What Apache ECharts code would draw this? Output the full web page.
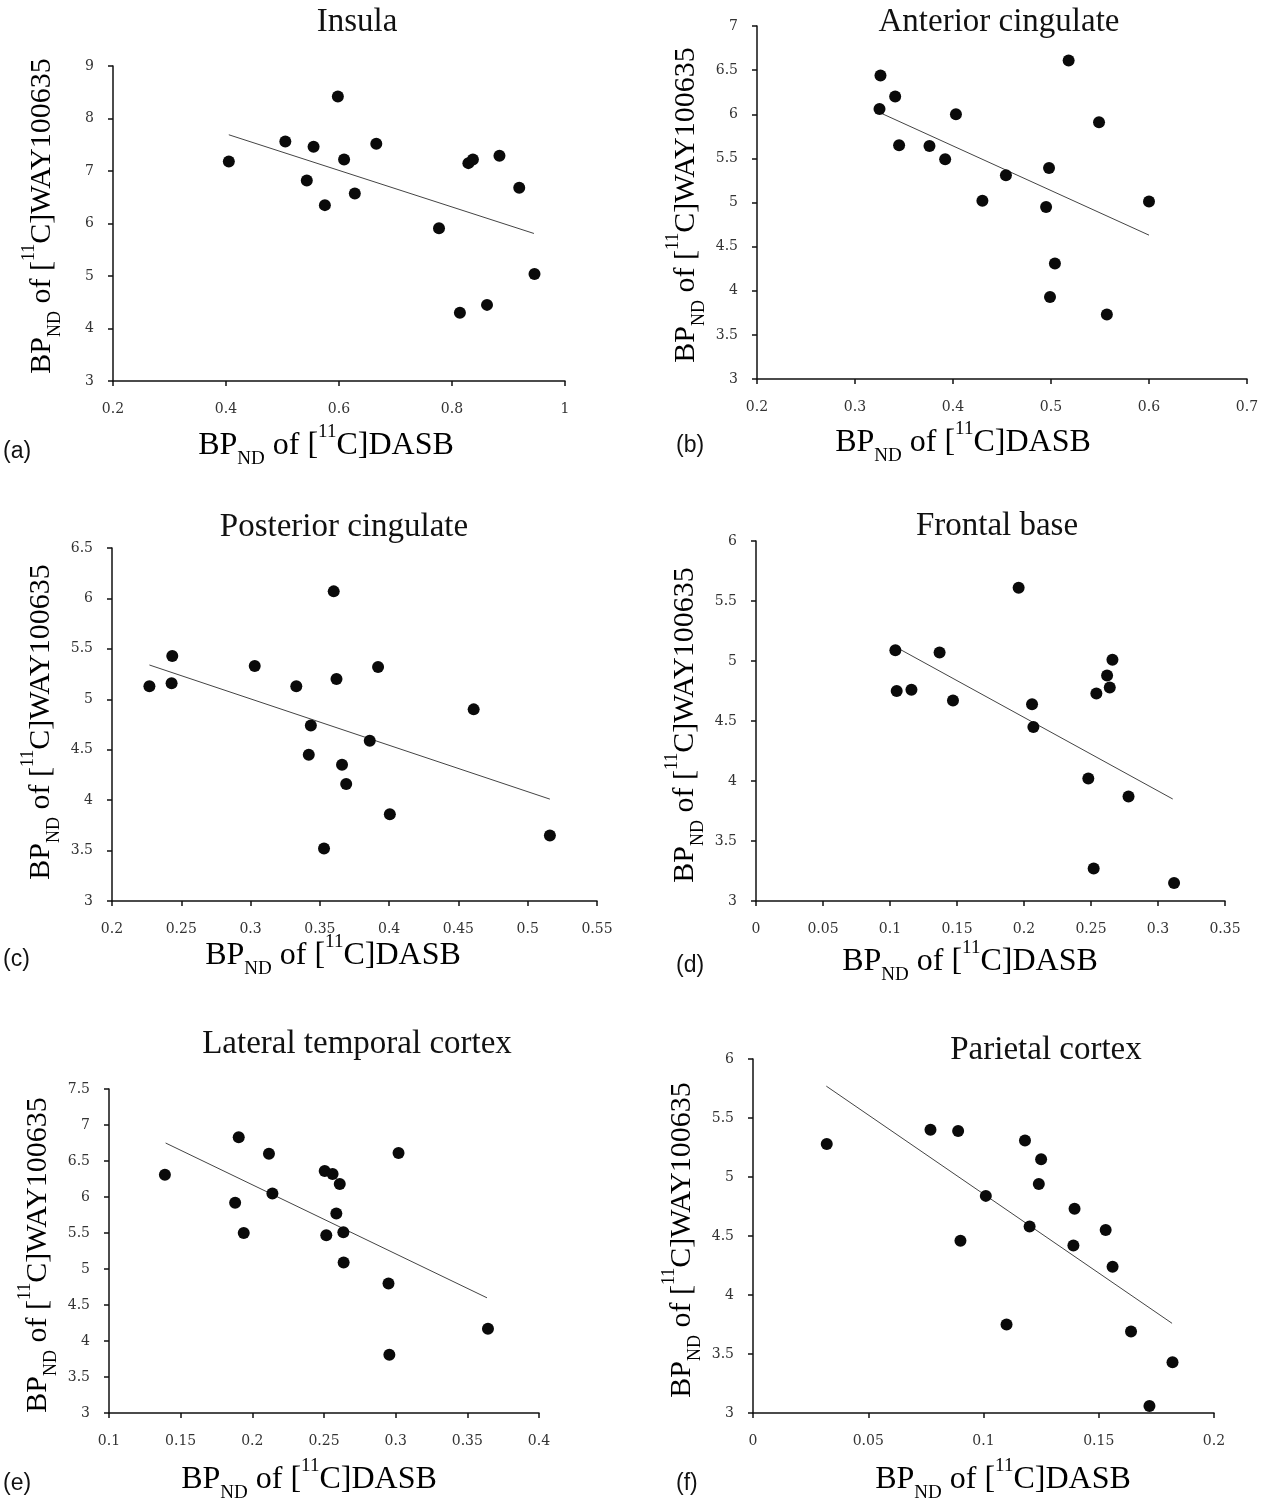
<!DOCTYPE html>
<html>
<head>
<meta charset="utf-8">
<script src="https://cdn.jsdelivr.net/npm/echarts@6/dist/echarts.min.js"></script>
<style>
  html, body { margin: 0; background: #fff; }
  #chart { width: 1271px; height: 1505px; }
</style>
</head>
<body>
<div id="chart"></div>
<script>
// region titles and panel letters
const titles = ['Insula', 'Anterior cingulate', 'Posterior cingulate', 'Frontal base', 'Lateral temporal cortex', 'Parietal cortex'];
const letters = ['(a)', '(b)', '(c)', '(d)', '(e)', '(f)'];

// BPND of [11C]DASB (x) vs BPND of [11C]WAY100635 (y)
const insulaX = [0.405, 0.505, 0.555, 0.543, 0.575, 0.598, 0.609, 0.628, 0.666, 0.777, 0.814, 0.829, 0.837, 0.862, 0.884, 0.919, 0.946];
const insulaY = [7.18, 7.56, 7.46, 6.82, 6.35, 8.42, 7.22, 6.57, 7.52, 5.91, 4.30, 7.15, 7.22, 4.45, 7.29, 6.68, 5.04];

const antCingX = [0.326, 0.325, 0.341, 0.345, 0.376, 0.392, 0.403, 0.430, 0.454, 0.498, 0.495, 0.504, 0.499, 0.518, 0.549, 0.557, 0.600];
const antCingY = [6.44, 6.06, 6.20, 5.65, 5.64, 5.49, 6.00, 5.02, 5.31, 5.39, 4.95, 4.31, 3.93, 6.61, 5.91, 3.73, 5.01];

const postCingX = [0.227, 0.2435, 0.243, 0.303, 0.333, 0.3435, 0.342, 0.360, 0.362, 0.353, 0.366, 0.369, 0.386, 0.392, 0.4005, 0.461, 0.516];
const postCingY = [5.13, 5.43, 5.16, 5.33, 5.13, 4.74, 4.45, 6.07, 5.20, 3.52, 4.35, 4.16, 4.59, 5.32, 3.86, 4.90, 3.65];

const frontalX = [0.104, 0.105, 0.116, 0.137, 0.147, 0.196, 0.206, 0.207, 0.248, 0.252, 0.254, 0.262, 0.264, 0.266, 0.278, 0.312];
const frontalY = [5.09, 4.75, 4.76, 5.07, 4.67, 5.61, 4.64, 4.45, 4.02, 3.27, 4.73, 4.88, 4.78, 5.01, 3.87, 3.15];

const latTempX = [0.139, 0.1905, 0.188, 0.194, 0.2116, 0.214, 0.2505, 0.256, 0.261, 0.2586, 0.2516, 0.2635, 0.2637, 0.295, 0.2956, 0.302, 0.3644];
const latTempY = [6.31, 6.83, 5.92, 5.50, 6.60, 6.05, 6.36, 6.32, 6.18, 5.77, 5.47, 5.51, 5.09, 4.80, 3.81, 6.61, 4.17];

const parietalX = [0.032, 0.077, 0.089, 0.090, 0.101, 0.110, 0.118, 0.125, 0.124, 0.120, 0.1395, 0.139, 0.153, 0.156, 0.164, 0.172, 0.182];
const parietalY = [5.28, 5.40, 5.39, 4.46, 4.84, 3.75, 5.31, 5.15, 4.94, 4.58, 4.73, 4.42, 4.55, 4.24, 3.69, 3.06, 3.43];

// trend line end points as drawn in each panel: [x0, y0, x1, y1]
const trendLines = [
  [0.405, 7.69, 0.945, 5.81],
  [0.325, 6.02, 0.600, 4.63],
  [0.227, 5.34, 0.516, 4.01],
  [0.107, 5.10, 0.311, 3.85],
  [0.1395, 6.75, 0.3637, 4.60],
  [0.0318, 5.77, 0.1818, 3.76]
];

// axis ranges: [min, max, interval]
const xRanges = [[0.2, 1, 0.2], [0.2, 0.7, 0.1], [0.2, 0.55, 0.05], [0, 0.35, 0.05], [0.1, 0.4, 0.05], [0, 0.2, 0.05]];
const yRanges = [[3, 9, 1], [3, 7, 0.5], [3, 6.5, 0.5], [3, 6, 0.5], [3, 7.5, 0.5], [3, 6, 0.5]];

const xSets = [insulaX, antCingX, postCingX, frontalX, latTempX, parietalX];
const ySets = [insulaY, antCingY, postCingY, frontalY, latTempY, parietalY];

// layout in px: grid box, title centre, x-name centre, y-name centre, letter pos
const grids = [
  { left: 113, top: 66, width: 452, height: 315 },
  { left: 757, top: 26, width: 490, height: 353 },
  { left: 112, top: 548, width: 485, height: 353 },
  { left: 756, top: 541, width: 469, height: 360 },
  { left: 109, top: 1089, width: 430, height: 324 },
  { left: 753, top: 1059, width: 461, height: 354 }
];
const titlePos = [[357, 22], [999, 22], [344, 527], [997, 526], [357, 1044], [1046, 1050]];
const xNamePos = [[326, 446], [963, 443], [333, 956], [970, 962], [309, 1480], [1003, 1480]];
const yNamePos = [[42, 216], [686, 205], [41, 722], [685, 725], [38, 1255], [682, 1240]];
const letterPos = [[3, 452], [676, 446], [3, 960], [676, 966], [3, 1484], [676, 1484]];

const SERIF = '"Liberation Serif", "Times New Roman", serif';

const axisLineStyle = { color: '#111', width: 1.5 };
const labelStyle = { fontFamily: '"DejaVu Serif", serif', fontSize: 14, color: '#333' };

function richFor(size) {
  const sub = Math.round(size * 0.6);
  return {
    m: { fontFamily: SERIF, fontSize: size, color: '#111', lineHeight: size + 14, verticalAlign: 'middle' },
    s: { fontFamily: SERIF, fontSize: sub, color: '#111', lineHeight: sub, verticalAlign: 'bottom' },
    p: { fontFamily: SERIF, fontSize: sub, color: '#111', lineHeight: sub + 8, verticalAlign: 'top' }
  };
}
const xNameText = '{m|BP}{s|ND}{m| of [}{p|11}{m|C]DASB}';
const yNameText = '{m|BP}{s|ND}{m| of [}{p|11}{m|C]WAY100635}';

const xAxes = [], yAxes = [], series = [], graphics = [];
grids.forEach((g, i) => {
  xAxes.push({
    type: 'value', gridIndex: i,
    min: xRanges[i][0], max: xRanges[i][1], interval: xRanges[i][2],
    axisLine: { onZero: false, lineStyle: axisLineStyle },
    axisTick: { inside: false, length: 5, lineStyle: axisLineStyle },
    axisLabel: Object.assign({ margin: 21 }, labelStyle),
    splitLine: { show: false }
  });
  yAxes.push({
    type: 'value', gridIndex: i,
    min: yRanges[i][0], max: yRanges[i][1], interval: yRanges[i][2],
    axisLine: { show: true, onZero: false, lineStyle: axisLineStyle },
    axisTick: { show: true, inside: false, length: 5, lineStyle: axisLineStyle },
    axisLabel: Object.assign({ margin: 19 }, labelStyle),
    splitLine: { show: false }
  });
  series.push({
    type: 'scatter', xAxisIndex: i, yAxisIndex: i,
    symbolSize: 12,
    itemStyle: { color: '#0a0a0a', opacity: 1 },
    data: xSets[i].map((x, k) => [x, ySets[i][k]]),
    z: 3
  });
  const t = trendLines[i];
  series.push({
    type: 'line', xAxisIndex: i, yAxisIndex: i,
    showSymbol: false, symbol: 'none',
    lineStyle: { color: '#444', width: 1 },
    data: [[t[0], t[1]], [t[2], t[3]]],
    z: 2
  });

  graphics.push({
    type: 'text', x: titlePos[i][0], y: titlePos[i][1],
    style: { text: titles[i], font: '33px ' + SERIF, fill: '#111', textAlign: 'center', textVerticalAlign: 'middle', verticalAlign: 'middle' }
  });
  graphics.push({
    type: 'text', x: xNamePos[i][0], y: xNamePos[i][1],
    style: { text: xNameText, rich: richFor(32), textAlign: 'center', textVerticalAlign: 'middle', verticalAlign: 'middle' }
  });
  graphics.push({
    type: 'text', x: yNamePos[i][0], y: yNamePos[i][1], rotation: Math.PI / 2,
    style: { text: yNameText, rich: richFor(30), textAlign: 'center', textVerticalAlign: 'middle', verticalAlign: 'middle' }
  });
  graphics.push({
    type: 'text', x: letterPos[i][0], y: letterPos[i][1],
    style: { text: letters[i], font: '23px "Liberation Sans", Arial, sans-serif', fill: '#111', textAlign: 'left', textVerticalAlign: 'middle', verticalAlign: 'middle' }
  });
});

const chart = echarts.init(document.getElementById('chart'), null, { renderer: 'canvas' });
chart.setOption({
  backgroundColor: '#fff',
  animation: false,
  grid: grids.map(g => Object.assign({ containLabel: false }, g)),
  xAxis: xAxes,
  yAxis: yAxes,
  series: series,
  graphic: graphics
});
</script>
</body>
</html>
